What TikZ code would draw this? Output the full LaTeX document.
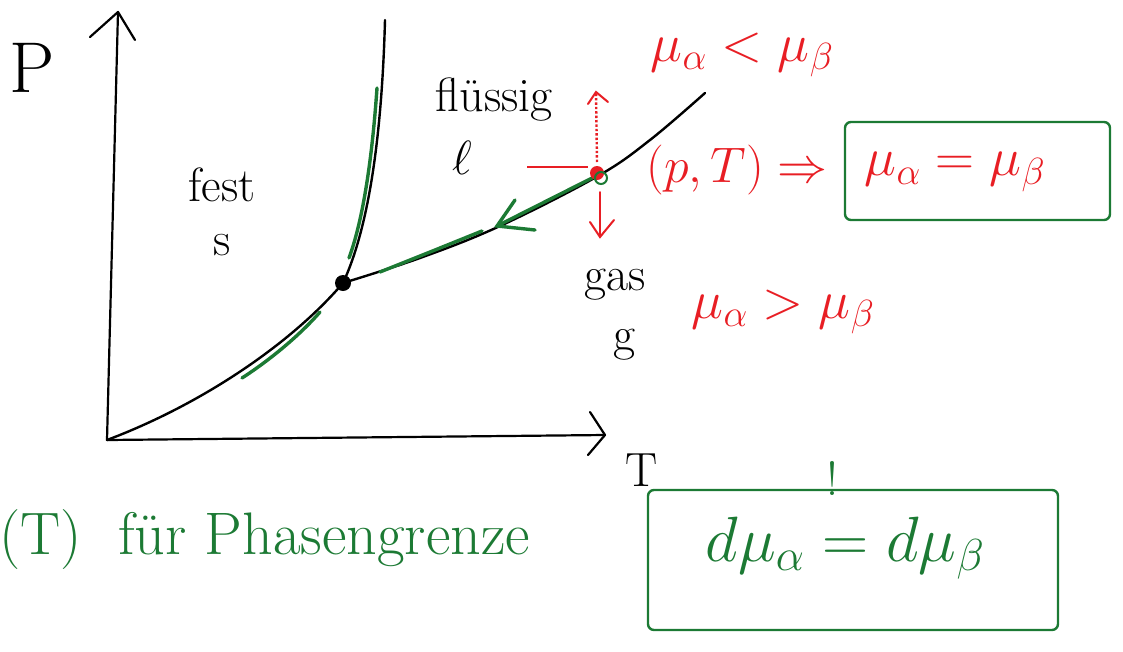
\RequirePackage{fix-cm}
\documentclass[tikz,border=0pt]{standalone}
\usepackage{amsmath}
\usetikzlibrary{arrows.meta}
\definecolor{pred}{RGB}{232,30,36}
\definecolor{pgreen}{RGB}{28,122,52}
\tikzset{
  axisline/.style={black, line width=2.2pt, line cap=round, line join=round},
  curve/.style={black, line width=2.4pt, line cap=round},
  gover/.style={pgreen, line width=3.4pt, line cap=round},
  blk/.style={black, font=\fontsize{48}{52}\selectfont},
  redtxt/.style={pred, font=\fontsize{54}{58}\selectfont},
  grntxt/.style={pgreen, font=\fontsize{60}{64}\selectfont},
  gbox/.style={pgreen, line width=2.4pt, rounded corners=6pt},
}
\begin{document}
\begin{tikzpicture}[x=1pt,y=-1pt]
\useasboundingbox (0,0) rectangle (1123,651);
% axes
\coordinate (O) at (107,440);
\coordinate (Ptop) at (118,12);
\coordinate (Tend) at (605,435);
\draw[axisline] (O) -- (Ptop);
\draw[axisline] (90,37) -- (Ptop) -- (135,40);
\draw[axisline] (O) -- (Tend);
\draw[axisline] (590,412) -- (Tend) -- (588,455);
\node[blk, font=\fontsize{72}{76}\selectfont] (P) at (32,68) {P};
\node[blk] (T) at (642,470) {T};
% phase boundaries
\coordinate (tp) at (343,283);
\draw[curve] (O) .. controls (200,405) and (290,345) .. (tp);
\draw[curve] (tp) .. controls (370,225) and (382,130) .. (385,20);
\draw[curve] plot[smooth, tension=0.6] coordinates {(tp) (420,258) (500,226) (598,176) (650,140) (705,93)};
\fill[black] (tp) circle (8);
% green overlays (on the boundaries)
\draw[gover] (242,378) .. controls (270,360) and (300,335) .. (320,312);
\draw[gover] (349,258) .. controls (363,220) and (372,160) .. (377,88);
\draw[gover] plot[smooth, tension=0.6] coordinates {(380,272) (430,252) (482,231)};
\coordinate (gs) at (596,176);
\coordinate (gt) at (497,226);
\draw[gover] (gs) -- (gt);
\draw[gover] (515,200) -- (gt) -- (535,230);
% point on curve
\coordinate (pt) at (597,173);
\fill[pred] (pt) circle (7);
\draw[pgreen, line width=2pt] (601,178) circle (6);
\draw[pred, line width=2pt] (527,167) -- (588,167);
\coordinate (upend) at (596,92);
\draw[pred, line width=2.4pt, dotted] (597,162) -- (upend);
\draw[pred, line width=2pt, line cap=round] (588,104) -- (upend) -- (608,102);
\coordinate (dnend) at (600,237);
\draw[pred, line width=2pt, line cap=round] (600,192) -- (dnend);
\draw[pred, line width=2pt, line cap=round] (590,222) -- (dnend) -- (614,220);
% phase labels
\node[blk] (fest) at (222,185) {fest};
\node[blk] (s) at (222,245) {s};
\node[blk] (fl) at (494,100) {flüssig};
\node[blk] (l) at (462,158) {$\ell$};
\node[blk] (gas) at (615,285) {gas};
\node[blk] (g) at (625,345) {g};
% red relations
\node[redtxt] (lt) at (742,55) {$\mu_\alpha < \mu_\beta$};
\node[redtxt, font=\fontsize{50}{54}\selectfont] (pT) at (737,170) {$(p,T)\Rightarrow$};
\node[redtxt] (eq) at (955,172) {$\mu_\alpha = \mu_\beta$};
\node[redtxt] (gt2) at (783,312) {$\mu_\alpha > \mu_\beta$};
\draw[gbox] (845,122) rectangle (1110,220);
% bottom
\node[grntxt, anchor=west] (ph) at (-4,540) {(T)\ \ für Phasengrenze};
\draw[gbox] (648,490) rectangle (1058,630);
\node[grntxt, font=\fontsize{64}{68}\selectfont] (deq) at (845,548) {$d\mu_\alpha = d\mu_\beta$};
\node[grntxt, font=\fontsize{48}{52}\selectfont] (bang) at (832,478) {!};
\end{tikzpicture}
\end{document}
